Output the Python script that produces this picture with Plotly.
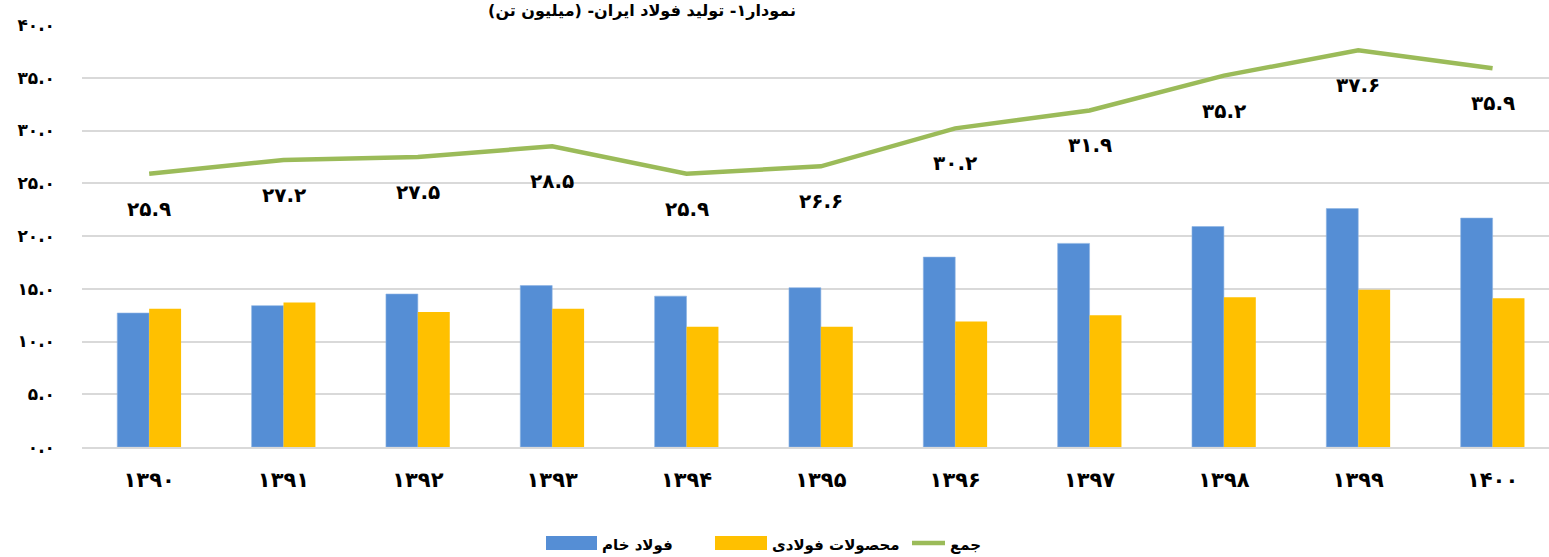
import plotly.graph_objects as go

# Colours (Excel-like palette)
BLUE = "#558ED5"
YELLOW = "#FFC000"
GREEN = "#9BBB59"
GRID = "#D9D9D9"
INK = "#000000"
FONT = "DejaVu Sans"

# Data (million tonnes)
years = ["1390", "1391", "1392", "1393", "1394", "1395",
         "1396", "1397", "1398", "1399", "1400"]
crude_steel = [12.7, 13.4, 14.5, 15.3, 14.3, 15.1, 18.0, 19.3, 20.9, 22.6, 21.7]
steel_products = [13.1, 13.7, 12.8, 13.1, 11.4, 11.4, 11.9, 12.5, 14.2, 14.9, 14.1]
total = [25.9, 27.2, 27.5, 28.5, 25.9, 26.6, 30.2, 31.9, 35.2, 37.6, 35.9]
y_ticks = [0, 5, 10, 15, 20, 25, 30, 35, 40]

FA = str.maketrans("0123456789", "۰۱۲۳۴۵۶۷۸۹")


def fa(s):
    return str(s).translate(FA)


cats = [fa(y) for y in years]

# page geometry (px)
W, H = 1549, 557
L, T, B = 82, 25, 110
PH = H - T - B


def py(pix):
    """pixel row -> paper y"""
    return (H - B - pix) / PH


def px(pix):
    """pixel column -> paper x"""
    return (pix - L) / (W - L)


fig = go.Figure()
fig.add_trace(go.Bar(name="فولاد خام", x=cats, y=crude_steel,
                     marker=dict(color=BLUE, line=dict(color="#8DB3E2", width=0.6)),
                     showlegend=False))
fig.add_trace(go.Bar(name="محصولات فولادی", x=cats, y=steel_products,
                     marker=dict(color=YELLOW, line=dict(width=0)),
                     showlegend=False))
fig.add_trace(go.Scatter(name="جمع", x=cats, y=total, mode="lines",
                         line=dict(color=GREEN, width=4.5), showlegend=False))

# value labels under the total line
for c, v in zip(cats, total):
    fig.add_annotation(x=c, y=v, text=f"<b>{fa(f'{v:.1f}')}</b>", showarrow=False,
                       yshift=-35, font=dict(family=FONT, size=20, color=INK))

# manual legend (wide swatches like the original)
legend_items = [
    ("bar", BLUE, "فولاد خام", 546, 597),
    ("bar", YELLOW, "محصولات فولادی", 715, 767),
    ("line", GREEN, "جمع", 912, 945),
]
ly = 543
for kind, col, label, x0, x1 in legend_items:
    if kind == "bar":
        fig.add_shape(type="rect", xref="paper", yref="paper",
                      x0=px(x0), x1=px(x1), y0=py(ly + 7), y1=py(ly - 7),
                      fillcolor=col, line=dict(width=0))
    else:
        fig.add_shape(type="line", xref="paper", yref="paper",
                      x0=px(x0), x1=px(x1), y0=py(ly), y1=py(ly),
                      line=dict(color=col, width=4.5))
    fig.add_annotation(xref="paper", yref="paper", x=px(x1 + 3), y=py(ly + 2),
                       xanchor="left", yanchor="middle", showarrow=False,
                       text=f"<b>{label}</b>",
                       font=dict(family=FONT, size=15, color=INK))

fig.update_layout(
    width=W, height=H,
    paper_bgcolor="white", plot_bgcolor="white",
    margin=dict(l=L, r=0, t=T, b=B),
    barmode="group", bargap=0.525, bargroupgap=0,
    font=dict(family=FONT, color=INK),
    title=dict(text="<b>نمودار۱- تولید فولاد ایران- (میلیون تن)</b>",
               x=642 / W, xanchor="center", y=1 - 10 / H, yanchor="middle",
               font=dict(family=FONT, size=16, color=INK)),
    xaxis=dict(type="category", range=[-0.5, 10.42], showgrid=False,
               showline=True, linecolor=GRID, linewidth=2, ticks="",
               tickfont=dict(family=FONT, size=21, color=INK),
               ticklabelstandoff=13, zeroline=False),
    yaxis=dict(range=[0, 40], tickvals=y_ticks,
               ticktext=[f"<b>{fa(f'{v:.1f}')}</b>" for v in y_ticks],
               gridcolor=GRID, gridwidth=2, zeroline=False, showline=False,
               tickfont=dict(family=FONT, size=17, color=INK),
               ticklabelstandoff=26),
)
fig.update_xaxes(ticktext=[f"<b>{c}</b>" for c in cats], tickvals=cats)

fig.write_html("out.html", config={"displayModeBar": False},
               post_script="document.body.style.margin='0';")
